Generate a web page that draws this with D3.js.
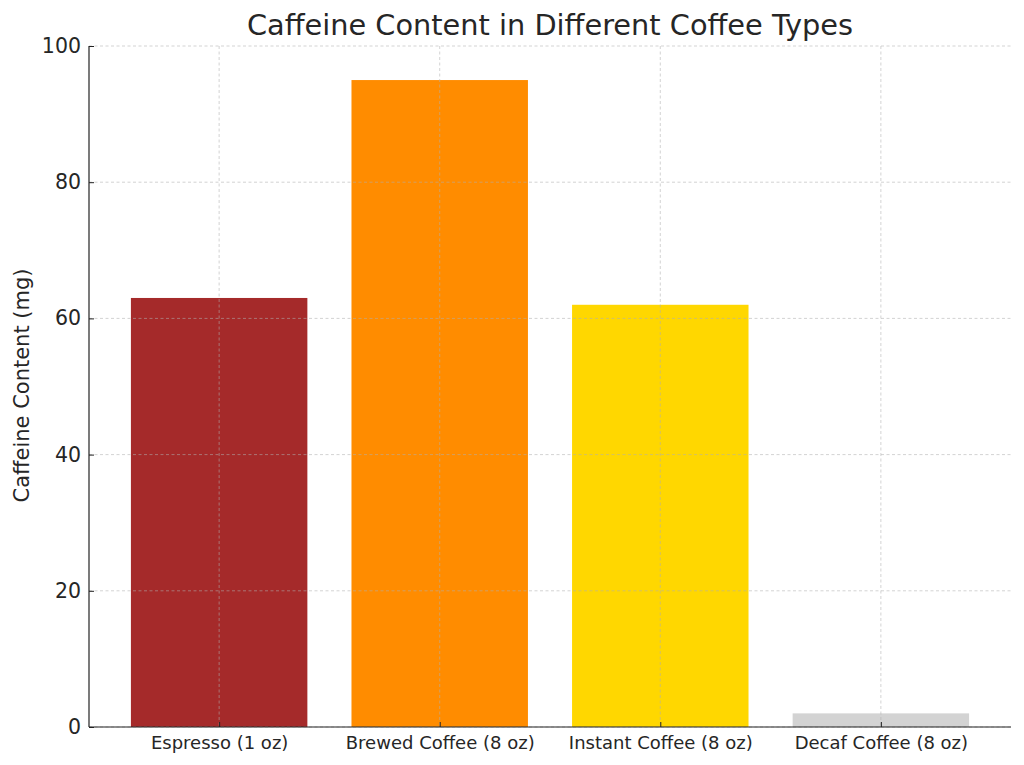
<!DOCTYPE html>
<html><head><meta charset="utf-8">
<script src="https://cdn.jsdelivr.net/npm/d3@7"></script>
<style>body{margin:0;background:#fff;} svg{display:block;font-family:"DejaVu Sans",sans-serif;}</style>
</head><body>
<svg id="c" width="1024" height="765"></svg>
<script>
const categories = ["Espresso (1 oz)", "Brewed Coffee (8 oz)", "Instant Coffee (8 oz)", "Decaf Coffee (8 oz)"];
const caffeine = [63, 95, 62, 2];
const barColors = ["#A52A2A", "#FF8C00", "#FFD700", "#D3D3D3"];
const yTicks = [0, 20, 40, 60, 80, 100];

const svg = d3.select("#c");
const L = 89, R = 1011, T = 46, B = 727;
const x = d3.scaleLinear().domain([-0.59, categories.length - 1 + 0.59]).range([L, R]);
const y = d3.scaleLinear().domain([0, 100]).range([B, T]);
const bw = 0.8;
const txt = "#262626";

// bars
svg.append("g").selectAll("rect").data(categories).join("rect")
  .attr("x", (d,i) => x(i - bw/2))
  .attr("width", (d,i) => x(i + bw/2) - x(i - bw/2))
  .attr("y", (d,i) => y(caffeine[i]))
  .attr("height", (d,i) => y(0) - y(caffeine[i]))
  .attr("fill", (d,i) => barColors[i]);

// grid
const grid = svg.append("g").attr("stroke", "#b0b0b0").attr("stroke-opacity", 0.7)
  .attr("stroke-width", 0.8).attr("stroke-dasharray", "3,2.5");
grid.selectAll("line.h").data(yTicks).join("line").attr("class","h")
  .attr("x1", L).attr("x2", R).attr("y1", d => y(d)).attr("y2", d => y(d));
grid.selectAll("line.v").data(categories).join("line").attr("class","v")
  .attr("x1", (d,i) => x(i)).attr("x2", (d,i) => x(i)).attr("y1", T).attr("y2", B);

// axes
const yAxis = d3.axisLeft(y).tickValues(yTicks).tickSize(-5).tickPadding(8);
const gy = svg.append("g").attr("transform", `translate(${L},0)`).call(yAxis);
gy.select(".domain").attr("d", `M0,${T}V${B}`).attr("stroke", "#222").attr("stroke-width", 1.2);
gy.selectAll(".tick line").attr("stroke", "#222");
gy.selectAll(".tick text").attr("font-size", 20.5).attr("fill", txt).attr("font-family", "DejaVu Sans");

const xAxis = d3.axisBottom(x).tickValues(d3.range(categories.length)).tickFormat(i => categories[i]).tickSize(-5).tickPadding(9);
const gx = svg.append("g").attr("transform", `translate(0,${B})`).call(xAxis);
gx.select(".domain").attr("d", `M${L},0H${R}`).attr("stroke", "#222").attr("stroke-width", 1.2);
gx.selectAll(".tick line").attr("stroke", "#222");
gx.selectAll(".tick text").attr("font-size", 18).attr("fill", txt).attr("font-family", "DejaVu Sans");

// labels
svg.append("text").attr("x", (L+R)/2).attr("y", 35).attr("text-anchor", "middle")
  .attr("font-size", 28.8).attr("fill", txt).text("Caffeine Content in Different Coffee Types");
svg.append("text").attr("transform", `translate(29,${(T+B)/2 - 1}) rotate(-90)`).attr("text-anchor", "middle")
  .attr("font-size", 21).attr("fill", txt).text("Caffeine Content (mg)");
</script>
</body></html>
